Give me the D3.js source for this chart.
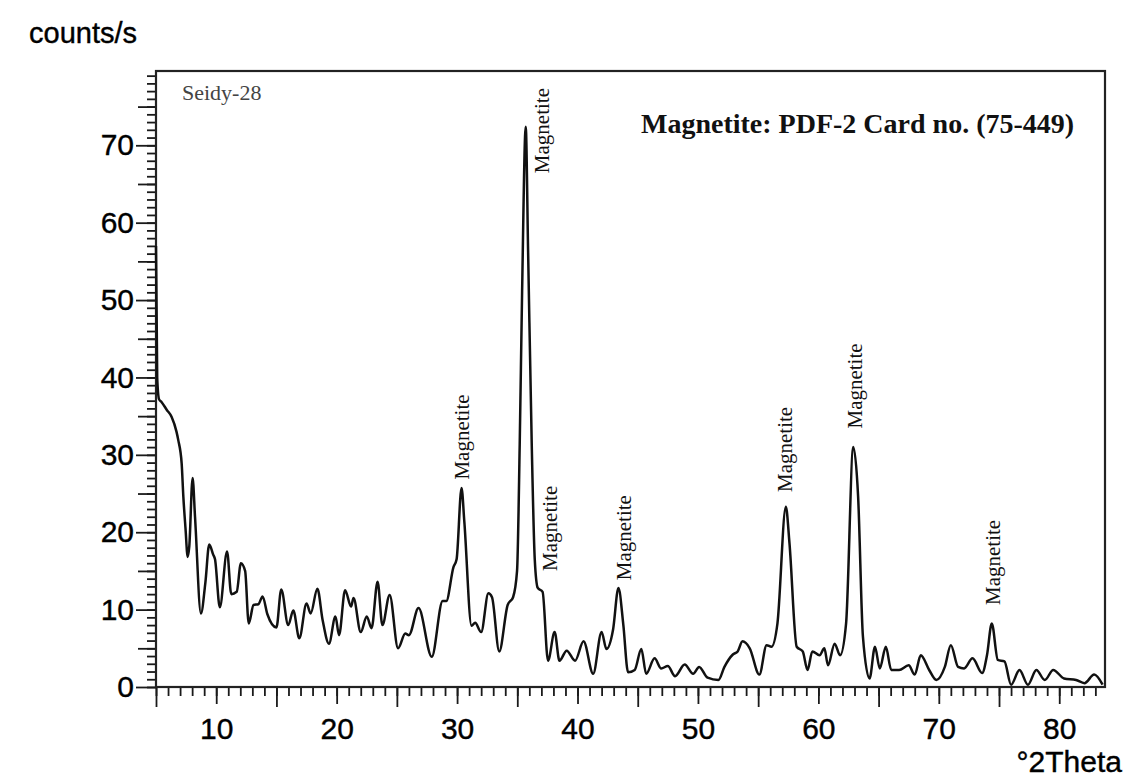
<!DOCTYPE html>
<html>
<head>
<meta charset="utf-8">
<script src="https://cdn.jsdelivr.net/npm/d3@7.8.5/dist/d3.min.js"></script>
<style>
  body { margin: 0; background: #fff; }
  svg { display: block; }
</style>
</head>
<body>
<div id="chart"></div>
<script>
// XRD pattern
const twoTheta = [
  5.0, 5.1, 5.25, 5.47, 5.9, 6.3, 6.7, 6.85, 7.13, 7.27, 7.45, 7.63, 7.76, 8.04, 8.24,
  8.73, 9.1, 9.42, 9.75, 9.9, 10.3, 10.9, 11.25, 11.7, 12.05, 12.4, 12.7, 13.1, 13.5,
  13.85, 14.25, 15.0, 15.4, 15.98, 16.4, 16.9, 17.5, 17.84, 18.4, 18.83, 19.36, 19.9,
  20.2, 20.7, 21.2, 21.4, 22.0, 22.5, 22.9, 23.4, 23.8, 24.4, 25.1, 25.7, 26.0, 26.8,
  27.9, 28.8, 29.1, 29.7, 29.96, 30.37, 30.6, 31.2, 31.5, 32.0, 32.6, 32.9, 33.5, 34.2,
  34.65, 34.98, 35.2, 35.4, 35.7, 35.9, 36.2, 36.45, 36.7, 37.1, 37.55, 38.1, 38.5,
  39.1, 39.8, 40.5, 41.3, 42.0, 42.4, 42.95, 43.4, 43.8, 44.2, 44.75, 45.3, 45.7, 46.4,
  46.95, 47.5, 48.1, 48.9, 49.6, 50.1, 50.8, 51.7, 52.2, 52.9, 53.3, 53.7, 54.3, 55.1, 55.7,
  56.1, 56.6, 57.3, 57.6, 58.2, 58.7, 59.1, 59.5, 60.1, 60.5, 60.8, 61.35, 61.8, 62.3,
  62.9, 63.3, 63.7, 64.25, 64.7, 65.1, 65.6, 66.05, 66.7, 67.5, 68.0, 68.5, 69.2, 69.8,
  70.5, 71.0, 71.6, 72.1, 72.8, 73.6, 74.0, 74.4, 74.9, 75.45, 76.0, 76.7, 77.4, 78.1,
  78.8, 79.5, 80.4, 81.4, 82.1, 82.9, 83.6
];
const counts = [
  57, 40, 37.2, 36.8, 35.8, 34.9, 33.0, 31.9, 28.9, 24.6, 20.5, 16.8, 18.1, 27.0, 22.0,
  9.5, 13.5, 18.4, 17.1, 16.5, 10.3, 17.5, 12.0, 12.3, 16.0, 15.0, 8.2, 10.6, 10.7,
  11.7, 9.4, 7.7, 12.6, 8.0, 9.9, 6.3, 10.8, 9.5, 12.7, 8.7, 5.6, 9.1,
  6.7, 12.5, 10.4, 11.5, 7.1, 9.1, 7.6, 13.6, 8.0, 11.9, 5.0, 6.9, 6.7, 10.2,
  3.9, 11.1, 11.1, 15.5, 16.5, 25.7, 21.4, 7.9, 8.3, 7.1, 12.1, 11.6, 4.6, 10.6,
  11.6, 15.0, 31.3, 51.1, 72.4, 56.1, 31.3, 16.5, 12.8, 12.3, 3.4, 7.1, 3.4,
  4.7, 3.4, 5.9, 1.7, 7.1, 4.9, 7.4, 12.8, 8.1, 1.9, 2.2, 4.9, 1.7, 3.7,
  2.4, 2.7, 1.4, 2.9, 1.7, 2.6, 1.2, 0.9, 2.6, 4.2, 4.6, 5.9, 5.0, 1.6, 5.4,
  5.2, 8.2, 23.3, 18.6, 5.2, 4.6, 2.2, 4.6, 4.1, 5.0, 2.8, 5.6, 4.1, 8.2,
  31.0, 24.6, 6.5, 1.1, 5.2, 2.4, 5.2, 2.2, 2.2, 2.8, 1.6, 4.1, 2.2, 0.9,
  2.6, 5.4, 2.6, 2.4, 3.7, 1.8, 4.1, 8.2, 3.5, 3.3, 0.3, 2.2, 0.3, 2.2,
  0.9, 2.2, 1.1, 0.9, 0.5, 1.6, 0.3
];

// phase labels: centre in 2theta, lower end of the text in counts/s
const peakNames = ["Magnetite", "Magnetite", "Magnetite", "Magnetite", "Magnetite", "Magnetite", "Magnetite"];
const peakLabelX = [30.4, 37.0, 37.7, 43.8, 57.2, 63.0, 74.5];
const peakLabelY = [26.8, 66.4, 15.0, 13.8, 25.2, 33.4, 10.6];

const xTickLabels = [10, 20, 30, 40, 50, 60, 70, 80];
const yTickLabels = [0, 10, 20, 30, 40, 50, 60, 70];

const xDomain = [5, 83.8];
const yDomain = [0, 79.6];

const sampleName = "Seidy-28";
const cardText = "Magnetite: PDF-2 Card no. (75-449)";
const yTitle = "counts/s";
const xTitle = "°2Theta";

const width = 1142;
const height = 780;
const margin = { top: 71, right: 37, bottom: 93, left: 156 };

const svg = d3.select("#chart")
  .append("svg")
  .attr("width", width)
  .attr("height", height);

svg.append("rect").attr("width", width).attr("height", height).attr("fill", "#fff");

const x = d3.scaleLinear().domain(xDomain).range([margin.left, width - margin.right]);
const y = d3.scaleLinear().domain(yDomain).range([height - margin.bottom, margin.top]);

const sansFont = "'Liberation Sans', Arial, sans-serif";
const serifFont = "'Liberation Serif', 'Times New Roman', serif";

// minor ticks every 1 unit
const xMinor = d3.range(5, 84, 1);
const yMinor = d3.range(0, 80, 1);

function styleAxis(g) {
  g.select(".domain").remove();
  g.selectAll(".tick line").attr("stroke", "#1a1a1a").attr("stroke-width", 1.8);
}

function styleLabels(g) {
  g.selectAll(".tick text")
    .attr("font-family", sansFont)
    .attr("font-size", 30)
    .attr("fill", "#000")
    .attr("stroke", "#000")
    .attr("stroke-width", 0.4);
}

svg.append("g")
  .attr("transform", `translate(0,${height - margin.bottom})`)
  .call(d3.axisBottom(x).tickValues(xMinor).tickSize(9).tickFormat(""))
  .call(styleAxis);

svg.append("g")
  .attr("transform", `translate(0,${height - margin.bottom})`)
  .call(d3.axisBottom(x).tickValues(d3.range(5, 84, 10)).tickSize(20).tickFormat(""))
  .call(styleAxis);

svg.append("g")
  .attr("transform", `translate(0,${height - margin.bottom})`)
  .call(d3.axisBottom(x).tickValues(xTickLabels).tickSize(17).tickPadding(14))
  .call(styleAxis)
  .call(styleLabels);

svg.append("g")
  .attr("transform", `translate(${margin.left},0)`)
  .call(d3.axisLeft(y).tickValues(yMinor).tickSize(9).tickFormat(""))
  .call(styleAxis);

svg.append("g")
  .attr("transform", `translate(${margin.left},0)`)
  .call(d3.axisLeft(y).tickValues(d3.range(5, 80, 10)).tickSize(18).tickFormat(""))
  .call(styleAxis);

svg.append("g")
  .attr("transform", `translate(${margin.left},0)`)
  .call(d3.axisLeft(y).tickValues(yTickLabels).tickSize(20).tickPadding(2))
  .call(styleAxis)
  .call(styleLabels);

// frame
svg.append("rect")
  .attr("x", x(xDomain[0]))
  .attr("y", y(yDomain[1]))
  .attr("width", x(xDomain[1]) - x(xDomain[0]))
  .attr("height", y(yDomain[0]) - y(yDomain[1]))
  .attr("fill", "none")
  .attr("stroke", "#222")
  .attr("stroke-width", 2.2);

// pattern
const points = twoTheta.map((t, i) => [t, counts[i]]);
const line = d3.line()
  .x((d) => x(d[0]))
  .y((d) => y(d[1]))
  .curve(d3.curveMonotoneX);

svg.append("path")
  .datum(points)
  .attr("d", line)
  .attr("fill", "none")
  .attr("stroke", "#111")
  .attr("stroke-width", 2.5)
  .attr("stroke-linejoin", "round");

// peak labels, rotated
svg.append("g")
  .selectAll("text")
  .data(peakNames)
  .enter()
  .append("text")
  .attr("transform", (d, i) => `translate(${x(peakLabelX[i])},${y(peakLabelY[i])}) rotate(-90)`)
  .attr("dy", "0.35em")
  .attr("font-family", serifFont)
  .attr("font-size", 21)
  .attr("fill", "#111")
  .text((d) => d);

svg.append("text")
  .attr("x", 182)
  .attr("y", 100)
  .attr("font-family", serifFont)
  .attr("font-size", 22)
  .attr("fill", "#444")
  .text(sampleName);

svg.append("text")
  .attr("x", 641)
  .attr("y", 133)
  .attr("font-family", serifFont)
  .attr("font-size", 28)
  .attr("font-weight", "bold")
  .attr("fill", "#111")
  .text(cardText);

svg.append("text")
  .attr("x", 29)
  .attr("y", 43)
  .attr("font-family", sansFont)
  .attr("font-size", 29)
  .attr("fill", "#000")
  .attr("stroke", "#000")
  .attr("stroke-width", 0.4)
  .text(yTitle);

svg.append("text")
  .attr("x", 1122)
  .attr("y", 772)
  .attr("text-anchor", "end")
  .attr("font-family", sansFont)
  .attr("font-size", 30)
  .attr("fill", "#000")
  .attr("stroke", "#000")
  .attr("stroke-width", 0.4)
  .text(xTitle);
</script>
</body>
</html>
